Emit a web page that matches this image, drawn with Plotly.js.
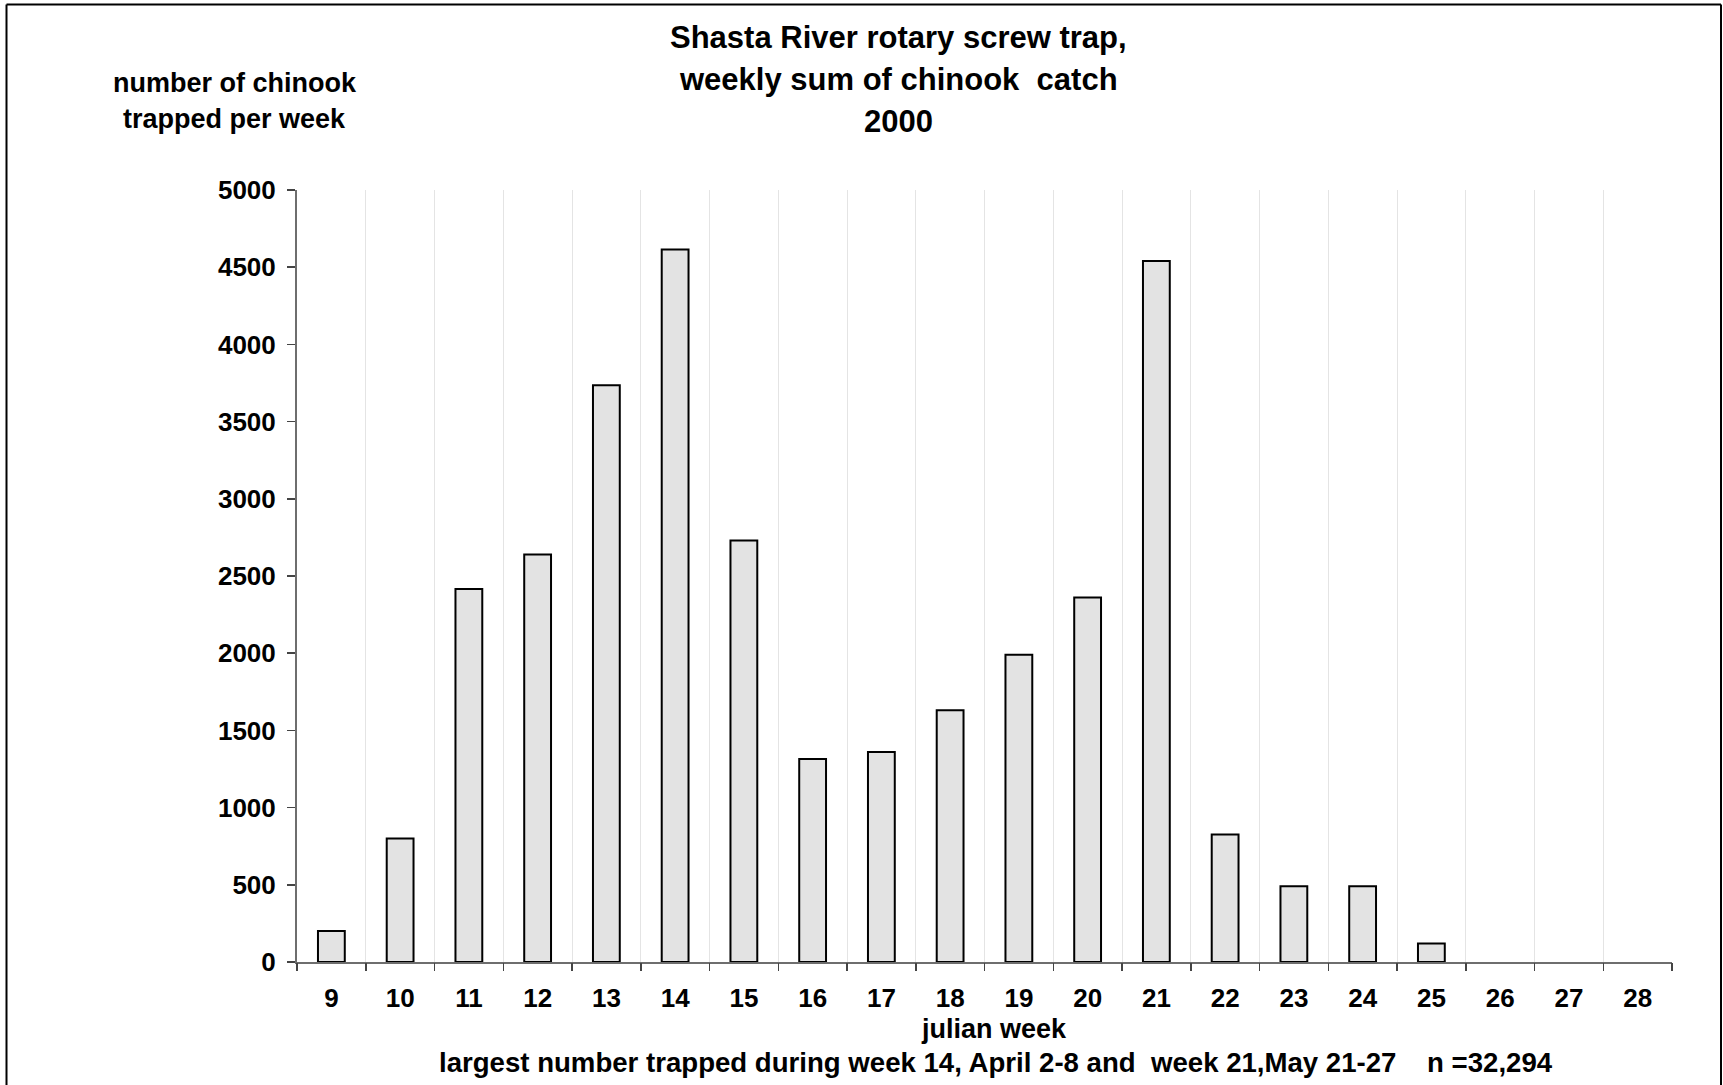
<!DOCTYPE html>
<html>
<head>
<meta charset="utf-8">
<script src="https://cdn.plot.ly/plotly-3.0.1.min.js"></script>
<style>
  html, body { margin: 0; padding: 0; background: #ffffff; }
  #chart { width: 1723px; height: 1085px; }
</style>
</head>
<body>
<div id="chart"></div>
<script>
// ---- data ----
const weeks = [9, 10, 11, 12, 13, 14, 15, 16, 17, 18, 19, 20, 21, 22, 23, 24, 25, 26, 27, 28];
const weekLabels = ['9', '10', '11', '12', '13', '14', '15', '16', '17', '18', '19', '20', '21', '22', '23', '24', '25', '26', '27', '28'];
const chinookCatch = [200, 800, 2415, 2640, 3735, 4615, 2730, 1315, 1360, 1630, 1990, 2360, 4540, 825, 490, 490, 120, 0, 0, 0];
const yTicks = [0, 500, 1000, 1500, 2000, 2500, 3000, 3500, 4000, 4500, 5000];

const titleLines = ['Shasta River rotary screw trap,', 'weekly sum of chinook\u00a0 catch', '2000'];
const yLabelLines = ['number of chinook', 'trapped per week'];
const xLabelText = 'julian week';
const noteText = 'largest number trapped during week 14, April 2-8 and\u00a0 week 21,May 21-27\u00a0\u00a0\u00a0 n =32,294';

// ---- layout helpers ----
const W = 1723, H = 1085;
const L = 297, R = 1672, T = 190, B = 962;
const pw = R - L, ph = B - T;
const px = x => (x - L) / pw;
const py = y => (B - y) / ph;
const FAM = 'Liberation Sans, Arial, Helvetica, sans-serif';
const boundaries = weeks.map(w => w - 0.5).concat([weeks[weeks.length - 1] + 0.5]);
const xRange = [weeks[0] - 0.5, weeks[weeks.length - 1] + 0.5];

const traces = [
  {
    type: 'bar',
    x: weeks,
    y: chinookCatch,
    width: 0.39,
    marker: {
      color: '#e3e3e3',
      line: { color: '#000000', width: chinookCatch.map(v => (v > 0 ? 2 : 0)) }
    },
    hoverinfo: 'x+y',
    showlegend: false
  },
  {
    type: 'scatter',
    x: [],
    y: [],
    xaxis: 'x2',
    yaxis: 'y',
    hoverinfo: 'skip',
    showlegend: false
  }
];

function textAnn(text, cx, cy, size) {
  return {
    text: text, xref: 'paper', yref: 'paper',
    x: px(cx), y: py(cy), xanchor: 'center', yanchor: 'middle',
    showarrow: false, align: 'center',
    font: { family: FAM, size: size, color: '#000000', weight: 'bold' }
  };
}

const titleY = [37.4, 79.1, 122];
const yLabelY = [83.5, 118.7];

const annotations = []
  .concat(titleLines.map((t, i) => textAnn(t, 898, titleY[i], 31)))
  .concat(yLabelLines.map((t, i) => textAnn(t, 234.6, yLabelY[i], 27)))
  .concat([
    textAnn(xLabelText, 994, 1029, 27),
    textAnn(noteText, 995.6, 1062, 27.6)
  ]);

const layout = {
  width: W,
  height: H,
  autosize: false,
  margin: { l: L, r: W - R, t: T, b: H - B, pad: 0 },
  paper_bgcolor: '#ffffff',
  plot_bgcolor: '#ffffff',
  showlegend: false,
  bargap: 0,
  xaxis: {
    range: xRange,
    tickmode: 'array',
    tickvals: weeks,
    ticktext: weekLabels,
    ticks: '',
    showgrid: false,
    zeroline: false,
    showline: true,
    linecolor: '#6e6e6e',
    linewidth: 2,
    tickfont: { family: FAM, size: 26, color: '#000000', weight: 'bold' },
    ticklabelstandoff: 12,
    fixedrange: true
  },
  xaxis2: {
    overlaying: 'x',
    matches: 'x',
    range: xRange,
    side: 'bottom',
    tickmode: 'array',
    tickvals: boundaries,
    ticks: 'outside',
    ticklen: 8,
    tickwidth: 1.5,
    tickcolor: '#444444',
    showticklabels: false,
    showgrid: true,
    gridcolor: '#e4e4e4',
    gridwidth: 1,
    zeroline: false,
    showline: false,
    fixedrange: true
  },
  yaxis: {
    range: [0, 5000],
    tickmode: 'array',
    tickvals: yTicks,
    ticktext: yTicks.map(String),
    ticks: 'outside',
    ticklen: 8,
    tickwidth: 1.5,
    tickcolor: '#444444',
    showgrid: false,
    zeroline: false,
    showline: true,
    linecolor: '#6e6e6e',
    linewidth: 2,
    tickfont: { family: FAM, size: 26, color: '#000000', weight: 'bold' },
    ticklabelstandoff: 6,
    fixedrange: true
  },
  annotations: annotations,
  shapes: [
    { type: 'line', xref: 'paper', yref: 'paper', x0: px(6.5), x1: px(1721), y0: py(4.5), y1: py(4.5), line: { color: '#000000', width: 2 } },
    { type: 'line', xref: 'paper', yref: 'paper', x0: px(6.5), x1: px(6.5), y0: py(4.5), y1: py(1090), line: { color: '#000000', width: 2 } },
    { type: 'line', xref: 'paper', yref: 'paper', x0: px(1721), x1: px(1721), y0: py(4.5), y1: py(1090), line: { color: '#000000', width: 2 } }
  ]
};

Plotly.newPlot('chart', traces, layout, { displayModeBar: false, staticPlot: true });
</script>
</body>
</html>
